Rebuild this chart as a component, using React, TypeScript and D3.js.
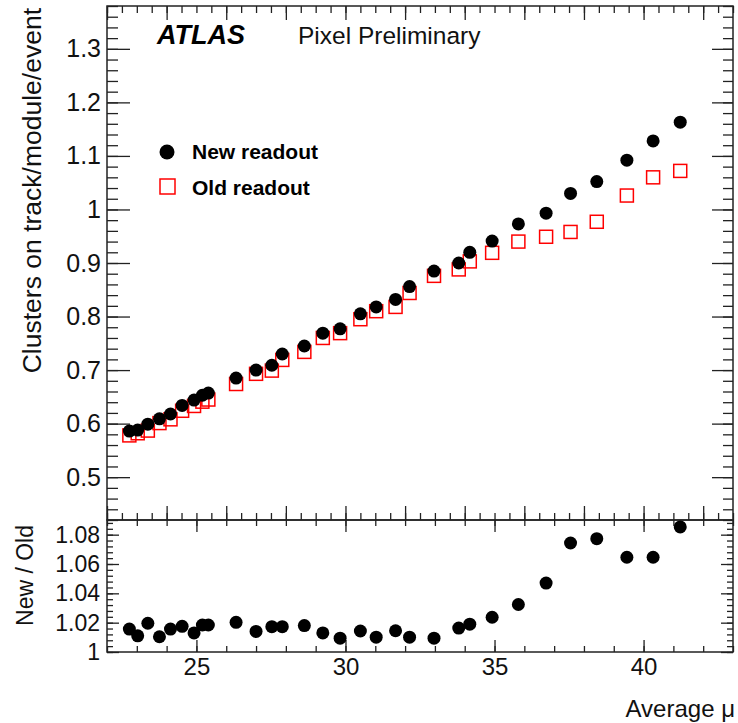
import React, { useEffect, useRef } from 'react';
import * as d3 from 'd3';

// average pile-up per point
const mu = [22.75, 23.03, 23.37, 23.76, 24.13, 24.52, 24.92, 25.2, 25.4, 26.33, 27.0, 27.53, 27.88,
  28.62, 29.24, 29.82, 30.5, 31.03, 31.68, 32.15, 32.97, 33.8, 34.17, 34.92, 35.8, 36.73, 37.55,
  38.43, 39.44, 40.32, 41.23];

const newReadout = [0.586, 0.588, 0.599, 0.609, 0.618, 0.634, 0.644, 0.653, 0.657, 0.685, 0.700,
  0.709, 0.730, 0.745, 0.769, 0.777, 0.805, 0.818, 0.832, 0.856, 0.885, 0.900, 0.920, 0.941, 0.973,
  0.993, 1.030, 1.052, 1.092, 1.128, 1.163];

const oldReadout = [0.578, 0.582, 0.587, 0.601, 0.608, 0.624, 0.633, 0.641, 0.645, 0.674, 0.693,
  0.699, 0.719, 0.734, 0.760, 0.769, 0.795, 0.810, 0.818, 0.844, 0.876, 0.888, 0.903, 0.919, 0.940,
  0.949, 0.958, 0.977, 1.026, 1.060, 1.072];

const ratio = [1.0156, 1.011, 1.0196, 1.0104, 1.0156, 1.0175, 1.013, 1.0184, 1.0184, 1.0202, 1.014,
  1.0173, 1.0173, 1.018, 1.013, 1.0094, 1.0143, 1.0101, 1.0145, 1.0101, 1.0094, 1.0163, 1.019,
  1.0237, 1.0324, 1.047, 1.0743, 1.0773, 1.0646, 1.0646, 1.0853];

const clusterTicks = [0.5, 0.6, 0.7, 0.8, 0.9, 1, 1.1, 1.2, 1.3];
const ratioTicks = [1, 1.02, 1.04, 1.06, 1.08];
const muTicks = [25, 30, 35, 40];

const FONT = '"Liberation Sans", Arial, Helvetica, sans-serif';

export default function App() {
  const svgRef = useRef<SVGSVGElement>(null);

  useEffect(() => {
    if (!svgRef.current) return;
    const svg = d3.select(svgRef.current);
    svg.selectAll('*').remove();

    const left = 107, right = 733, top = 6, mid = 520, bottom = 652;

    const x = d3.scaleLinear().domain([22, 43]).range([left, right]);
    const yTop = d3.scaleLinear().domain([0.42, 1.38]).range([mid, top]);
    const yBot = d3.scaleLinear().domain([1, 1.09]).range([bottom, mid]);

    const tickGroup = (axis: any, tx: number, ty: number) => {
      svg.append('g')
        .attr('transform', `translate(${tx},${ty})`)
        .attr('color', '#222')
        .call(axis.tickFormat(() => ''))
        .call((g: any) => g.select('.domain').remove())
        .call((g: any) => g.selectAll('line').attr('stroke-width', 1.3));
    };

    // upper pad ticks
    const topMinorX = d3.range(22, 43.01, 0.5);
    const topMajorX = d3.range(22, 43.01, 2);
    const topMinorY = d3.range(0.42, 1.381, 0.02);
    tickGroup(d3.axisTop(x).tickValues(topMinorX).tickSize(7), 0, mid);
    tickGroup(d3.axisTop(x).tickValues(topMajorX).tickSize(14), 0, mid);
    tickGroup(d3.axisBottom(x).tickValues(topMinorX).tickSize(7), 0, top);
    tickGroup(d3.axisBottom(x).tickValues(topMajorX).tickSize(14), 0, top);
    tickGroup(d3.axisRight(yTop).tickValues(topMinorY).tickSize(11), left, 0);
    tickGroup(d3.axisRight(yTop).tickValues(clusterTicks).tickSize(23), left, 0);
    tickGroup(d3.axisLeft(yTop).tickValues(topMinorY).tickSize(10), right, 0);
    tickGroup(d3.axisLeft(yTop).tickValues(clusterTicks).tickSize(21), right, 0);

    // lower pad ticks
    const botMinorX = d3.range(22, 43.01, 1);
    const botMinorY = d3.range(1, 1.0901, 0.004);
    tickGroup(d3.axisTop(x).tickValues(botMinorX).tickSize(6), 0, bottom);
    tickGroup(d3.axisTop(x).tickValues(muTicks).tickSize(12), 0, bottom);
    tickGroup(d3.axisBottom(x).tickValues(botMinorX).tickSize(6), 0, mid);
    tickGroup(d3.axisBottom(x).tickValues(muTicks).tickSize(12), 0, mid);
    tickGroup(d3.axisRight(yBot).tickValues(botMinorY).tickSize(6), left, 0);
    tickGroup(d3.axisRight(yBot).tickValues(ratioTicks).tickSize(12), left, 0);
    tickGroup(d3.axisLeft(yBot).tickValues(botMinorY).tickSize(6), right, 0);
    tickGroup(d3.axisLeft(yBot).tickValues(ratioTicks).tickSize(12), right, 0);

    // frames
    svg.append('rect').attr('x', left).attr('y', top).attr('width', right - left).attr('height', mid - top)
      .attr('fill', 'none').attr('stroke', '#222').attr('stroke-width', 1.5);
    svg.append('rect').attr('x', left).attr('y', mid).attr('width', right - left).attr('height', bottom - mid)
      .attr('fill', 'none').attr('stroke', '#222').attr('stroke-width', 1.5);

    // tick labels
    const labels = (axis: any, tx: number, ty: number, size: number) => {
      const g = svg.append('g')
        .attr('transform', `translate(${tx},${ty})`)
        .call(axis.tickSize(0))
        .call((g: any) => g.select('.domain').remove());
      g.attr('font-family', FONT).attr('font-size', size);
      g.selectAll('text').attr('fill', '#111');
    };
    labels(d3.axisLeft(yTop).tickValues(clusterTicks).tickPadding(6).tickFormat((d: any) => String(d)), left, 0, 25);
    labels(d3.axisLeft(yBot).tickValues(ratioTicks).tickPadding(7).tickFormat((d: any) => String(d)), left, 0, 23);
    labels(d3.axisBottom(x).tickValues(muTicks).tickPadding(6).tickFormat((d: any) => String(d)), 0, bottom, 24);

    // axis titles
    svg.append('text')
      .attr('transform', `translate(41,${top + 2}) rotate(-90)`)
      .attr('text-anchor', 'end').attr('font-family', FONT).attr('font-size', 26.5).attr('fill', '#111')
      .text('Clusters on track/module/event');
    svg.append('text')
      .attr('transform', `translate(33,525) rotate(-90)`)
      .attr('text-anchor', 'end').attr('font-family', FONT).attr('font-size', 23).attr('fill', '#111')
      .text('New / Old');
    svg.append('text')
      .attr('x', 735).attr('y', 717)
      .attr('text-anchor', 'end').attr('font-family', FONT).attr('font-size', 24).attr('fill', '#111')
      .text('Average \u03bc');

    // ATLAS label
    svg.append('text').attr('x', 157).attr('y', 44)
      .attr('font-family', FONT).attr('font-size', 27).attr('font-weight', 'bold').attr('font-style', 'italic')
      .text('ATLAS');
    svg.append('text').attr('x', 298).attr('y', 44)
      .attr('font-family', FONT).attr('font-size', 24.5).attr('fill', '#111')
      .text('Pixel Preliminary');

    // legend
    svg.append('circle').attr('cx', 167).attr('cy', 152).attr('r', 7.5).attr('fill', '#000');
    svg.append('text').attr('x', 192).attr('y', 159)
      .attr('font-family', FONT).attr('font-size', 21).attr('font-weight', 'bold').text('New readout');
    svg.append('rect').attr('x', 160).attr('y', 179).attr('width', 15).attr('height', 15)
      .attr('fill', 'none').attr('stroke', '#ff0000').attr('stroke-width', 1.5);
    svg.append('text').attr('x', 192).attr('y', 195)
      .attr('font-family', FONT).attr('font-size', 21).attr('font-weight', 'bold').text('Old readout');

    // old readout squares
    svg.append('g').selectAll('rect')
      .data(mu)
      .enter()
      .append('rect')
      .attr('x', (d, i) => x(d) - 6.5)
      .attr('y', (d, i) => yTop(oldReadout[i]) - 6.5)
      .attr('width', 13)
      .attr('height', 13)
      .attr('fill', 'none')
      .attr('stroke', '#ff0000')
      .attr('stroke-width', 1.5);

    // new readout circles
    svg.append('g').selectAll('circle')
      .data(mu)
      .enter()
      .append('circle')
      .attr('cx', d => x(d))
      .attr('cy', (d, i) => yTop(newReadout[i]))
      .attr('r', 6.5)
      .attr('fill', '#000');

    // ratio
    svg.append('g').selectAll('circle')
      .data(mu)
      .enter()
      .append('circle')
      .attr('cx', d => x(d))
      .attr('cy', (d, i) => yBot(ratio[i]))
      .attr('r', 6.5)
      .attr('fill', '#000');
  }, []);

  return (
    <svg
      ref={svgRef}
      width={738}
      height={723}
      style={{ position: 'absolute', left: 0, top: 0, background: '#fff' }}
    />
  );
}
